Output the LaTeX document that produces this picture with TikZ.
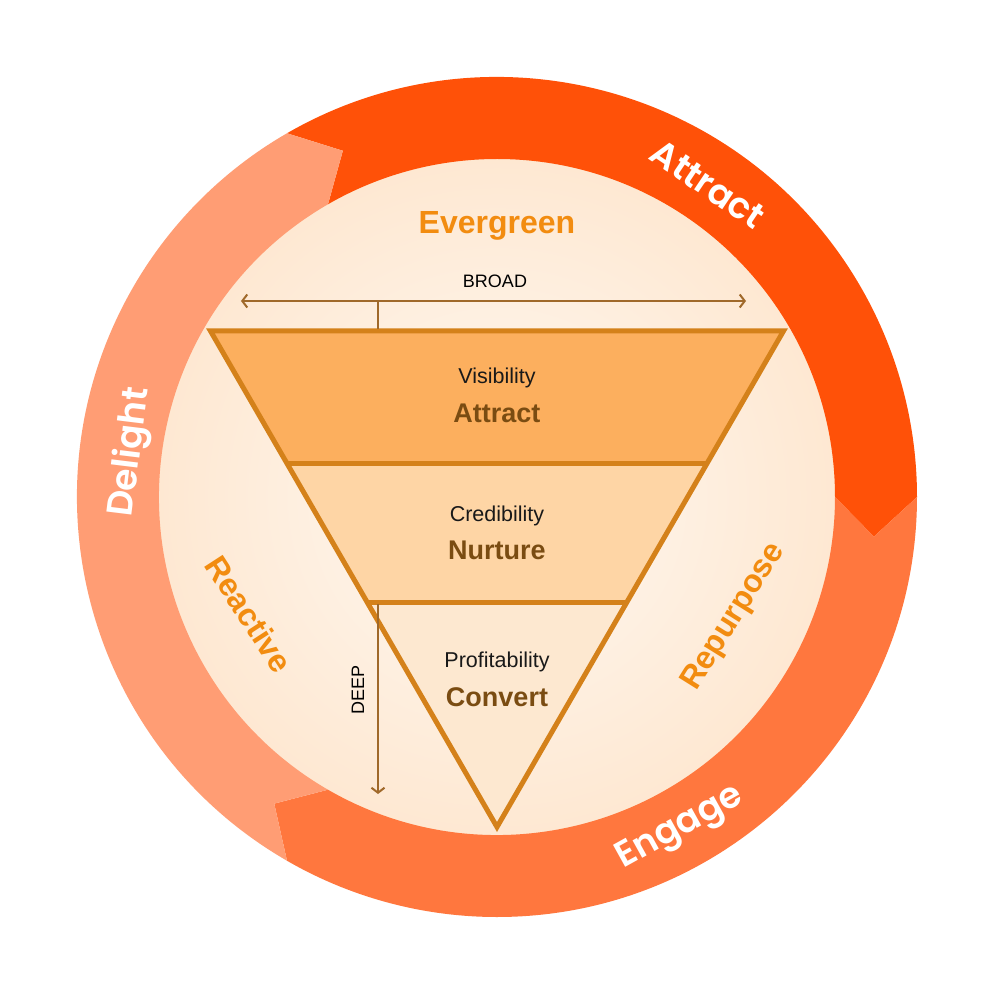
\documentclass[tikz,border=0pt]{standalone}
\usepackage{fontspec}
\setmainfont{Liberation Sans}
\newfontfamily\popfont{Poppins}[UprightFont={* SemiBold}]
\usetikzlibrary{arrows.meta}
\definecolor{cAttract}{HTML}{FF5108}
\definecolor{cEngage}{HTML}{FF773E}
\definecolor{cDelight}{HTML}{FF9D74}
\definecolor{funnelline}{HTML}{D4811A}
\definecolor{bandA}{HTML}{FCAF5E}
\definecolor{bandB}{HTML}{FED5A5}
\definecolor{bandC}{HTML}{FDE8D0}
\definecolor{evg}{HTML}{F28C10}
\definecolor{titlec}{HTML}{7A4C12}
\definecolor{measurec}{HTML}{A0692A}
\definecolor{bgin}{HTML}{FFF9F3}
\definecolor{bgout}{HTML}{FEE8D2}
\begin{document}
\begin{tikzpicture}[x=1pt,y=1pt,
  arclabel/.style={text=white, font=\popfont\fontsize{36}{40}\selectfont, inner sep=0pt},
  sidelabel/.style={text=evg, font=\bfseries\fontsize{32}{36}\selectfont, inner sep=0pt},
  smalllbl/.style={text=black!90, font=\fontsize{21.5}{24}\selectfont, inner sep=0pt},
  biglbl/.style={text=titlec, font=\bfseries\fontsize{27}{30}\selectfont, inner sep=0pt},
  measurelbl/.style={text=black, font=\fontsize{18}{20}\selectfont, inner sep=0pt},
  measureline/.style={draw=measurec, line width=2pt},
  barb/.tip={Straight Barb[length=5pt,width=13pt,line width=2pt]},
  funnel/.style={draw=funnelline, line width=5pt, line join=miter}
]
\useasboundingbox (-497,-499) rectangle (499,497);
\fill[white] (-497,-499) rectangle (499,497);

% inner disc
\shade[inner color=bgin, outer color=bgout] (0,0) circle[radius=339];

% ring arrows
\fill[cAttract] (120:420) arc[start angle=120,end angle=0,radius=420] -- (-6:379) -- (0:338) arc[start angle=0,end angle=120,radius=338] -- (114:379) -- cycle;
\fill[cEngage] (0:420) arc[start angle=0,end angle=-120,radius=420] -- (-126:379) -- (-120:338) arc[start angle=-120,end angle=0,radius=338] -- (-6:379) -- cycle;
\fill[cDelight] (240:420) arc[start angle=240,end angle=120,radius=420] -- (114:379) -- (120:338) arc[start angle=120,end angle=240,radius=338] -- (234:379) -- cycle;

\node[arclabel, rotate=-34] (lAttract) at (56:377) {Attract};
\node[arclabel, rotate=29] (lEngage) at (-61:379) {Engage};
\node[arclabel, rotate=83] (lDelight) at (173:369) {Delight};

% funnel
\coordinate (TL) at (-286.5,166);
\coordinate (TR) at (286.5,166);
\coordinate (AP) at (0,-330);
\coordinate (ML) at (-209.7,33);
\coordinate (MR) at (209.7,33);
\coordinate (LL) at (-130,-105);
\coordinate (LR) at (130,-105);
\fill[bandA] (TL) -- (TR) -- (MR) -- (ML) -- cycle;
\fill[bandB] (ML) -- (MR) -- (LR) -- (LL) -- cycle;
\fill[bandC] (LL) -- (LR) -- (AP) -- cycle;
\draw[funnel] (ML) -- (MR);
\draw[funnel] (LL) -- (LR);
\draw[funnel] (TL) -- (TR) -- (AP) -- cycle;

\node[smalllbl] (vis) at (0,119) {Visibility};
\node[biglbl] (att) at (0,84) {Attract};
\node[smalllbl] (cred) at (0,-19) {Credibility};
\node[biglbl] (nur) at (0,-53) {Nurture};
\node[smalllbl] (prof) at (0,-165) {Profitability};
\node[biglbl] (conv) at (0,-200) {Convert};

% side labels
\node[sidelabel] (evergreen) at (0,271) {Evergreen};
\node[sidelabel, rotate=-57] (reactive) at (-248,-117) {Reactive};
\node[sidelabel, rotate=58] (repurpose) at (237,-120) {Repurpose};

% measures
\coordinate (bl) at (-256,196);
\coordinate (br) at (249,196);
\coordinate (stemtop) at (-119,196);
\coordinate (stembot) at (-119,168);
\draw[measureline, barb-barb] (bl) -- (br);
\draw[measureline] (stemtop) -- (stembot);
\node[measurelbl] (broad) at (-2,216) {BROAD};

\coordinate (dtop) at (-119,-107);
\coordinate (dbot) at (-119,-297);
\draw[measureline, -barb] (dtop) -- (dbot);
\node[measurelbl, rotate=90] (deep) at (-139,-193) {DEEP};
\end{tikzpicture}
\end{document}
